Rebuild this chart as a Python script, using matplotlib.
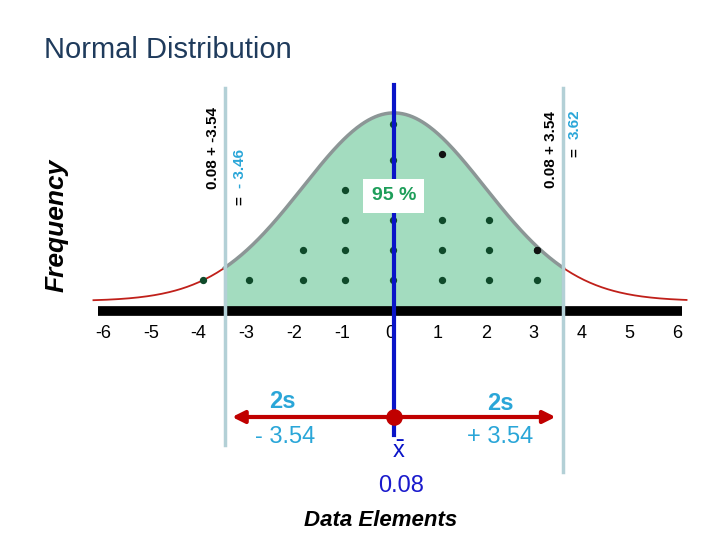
import numpy as np
import matplotlib.pyplot as plt

plt.rcParams['font.family'] = ['Liberation Sans', 'DejaVu Sans']

# summary values shown on the slide
mean = 0.08
two_s = 3.54
sd = 1.9          # visual spread of the drawn curve
peak = 6.27       # curve height in dot rows
tail = 0.3
lower = -3.46
upper = 3.62

ticks = [-6, -5, -4, -3, -2, -1, 0, 1, 2, 3, 4, 5, 6]

# dot columns (x position) and number of stacked dots
dot_x = [-3.9, -2.95, -1.82, -0.94, 0.06, 1.09, 2.07, 3.07]
dot_n = [1, 1, 2, 4, 6, 3, 3, 2]
# stray dots sitting on the curve
extra_x = [1.09, 3.07]
extra_y = [5.2, 2.0]

fig = plt.figure(figsize=(7.2, 5.4), dpi=100)
ax = fig.add_axes([0, 0, 1, 1])
# 1 x unit = 47.83 px (0 at px 390), 1 y unit = 30 px (0 at px 310)
ax.set_xlim(-390 / 47.83, 330 / 47.83)
ax.set_ylim(-230 / 30, 310 / 30)
ax.axis('off')

def py(p):
    return (310 - p) / 30

xs = np.linspace(-6.2, 6.2, 400)
curve = tail + peak * np.exp(-(xs - mean) ** 2 / (2 * sd ** 2))
ax.plot(xs, curve, color='#c0201a', lw=1.3, zorder=2)

xf = np.linspace(lower, upper, 300)
cf = tail + peak * np.exp(-(xf - mean) ** 2 / (2 * sd ** 2))
ax.fill_between(xf, 0, cf, color='#a3dcbf', zorder=3)
ax.plot(xf, cf, color='#8c9696', lw=2.5, zorder=4)
ax.plot([lower, lower, upper, upper], [cf[0], 0.05, 0.05, cf[-1]], color='#8c9696', lw=1.5, zorder=4)

for x, n in zip(dot_x, dot_n):
    ys = [1 + i for i in range(n)]
    if n == 6:
        ys[-1] = 6.2
    ax.scatter([x] * len(ys), ys, s=18, color='#0f4a2a', zorder=5)
ax.scatter(extra_x, extra_y, s=18, color='#111111', zorder=5)

ax.plot([-6.1, 6.1], [py(311), py(311)], color='black', lw=7, zorder=4, solid_capstyle='butt')
for t in ticks:
    ax.text(t, py(333), str(t), ha='center', va='center', fontsize=13, zorder=6)

ax.plot([lower, lower], [py(88), py(445)], color='#b3d0d6', lw=2.5, zorder=6)
ax.plot([upper, upper], [py(88), py(472)], color='#b3d0d6', lw=2.5, zorder=6)
ax.plot([mean, mean], [py(85), py(435)], color='#0a14c8', lw=3, zorder=7)

ax.annotate('', xy=(lower + 0.1, py(417)), xytext=(upper - 0.1, py(417)),
            arrowprops=dict(arrowstyle='<|-|>', color='#c00000', lw=3, mutation_scale=18), zorder=8)
ax.scatter([mean], [py(417)], s=120, color='#c00000', zorder=9)

ax.text(-2.25, py(402), '2s', color='#2aa6d8', fontsize=17, fontweight='bold', ha='center', va='center')
ax.text(2.3, py(404), '2s', color='#2aa6d8', fontsize=17, fontweight='bold', ha='center', va='center')
ax.text(-2.2, py(437), '- %.2f' % two_s, color='#2aa6d8', fontsize=17, ha='center', va='center')
ax.text(2.3, py(437), '+ %.2f' % two_s, color='#2aa6d8', fontsize=17, ha='center', va='center')
ax.text(mean + 0.1, py(452), r'$\bar{\mathregular{x}}$', color='#0a14c8', fontsize=17, ha='center', va='center')
ax.text(mean + 0.15, py(486), '%.2f' % mean, color='#1a1acc', fontsize=17, ha='center', va='center')
ax.text(-0.2, py(520), 'Data Elements', fontsize=16, fontweight='bold', fontstyle='italic', ha='center', va='center')

ax.text(-346 / 47.83, py(50), 'Normal Distribution', color='#1f3b5c', fontsize=21, ha='left', va='center')
ax.text(-333 / 47.83, py(225), 'Frequency', fontsize=19, fontweight='bold', fontstyle='italic',
        rotation=90, ha='center', va='center')

ax.text(-177 / 47.83, py(148), '0.08 + -3.54', fontsize=11, fontweight='bold', rotation=90, ha='center', va='center')
ax.text(-150 / 47.83, py(201), '=', fontsize=11, fontweight='bold', rotation=90, ha='center', va='center')
ax.text(-150 / 47.83, py(168), '- 3.46', color='#2aa6d8', fontsize=11, fontweight='bold', rotation=90, ha='center', va='center')
ax.text(161 / 47.83, py(150), '0.08 + 3.54', fontsize=11, fontweight='bold', rotation=90, ha='center', va='center')
ax.text(185 / 47.83, py(153), '=', fontsize=11, fontweight='bold', rotation=90, ha='center', va='center')
ax.text(185 / 47.83, py(124), '3.62', color='#2aa6d8', fontsize=11, fontweight='bold', rotation=90, ha='center', va='center')

ax.text(mean, py(196), '95 %', color='#1e9e5a', fontsize=14, fontweight='bold', ha='center', va='center',
        bbox=dict(facecolor='white', edgecolor='none', pad=6), zorder=8)

fig.savefig('out.png', dpi=100)
